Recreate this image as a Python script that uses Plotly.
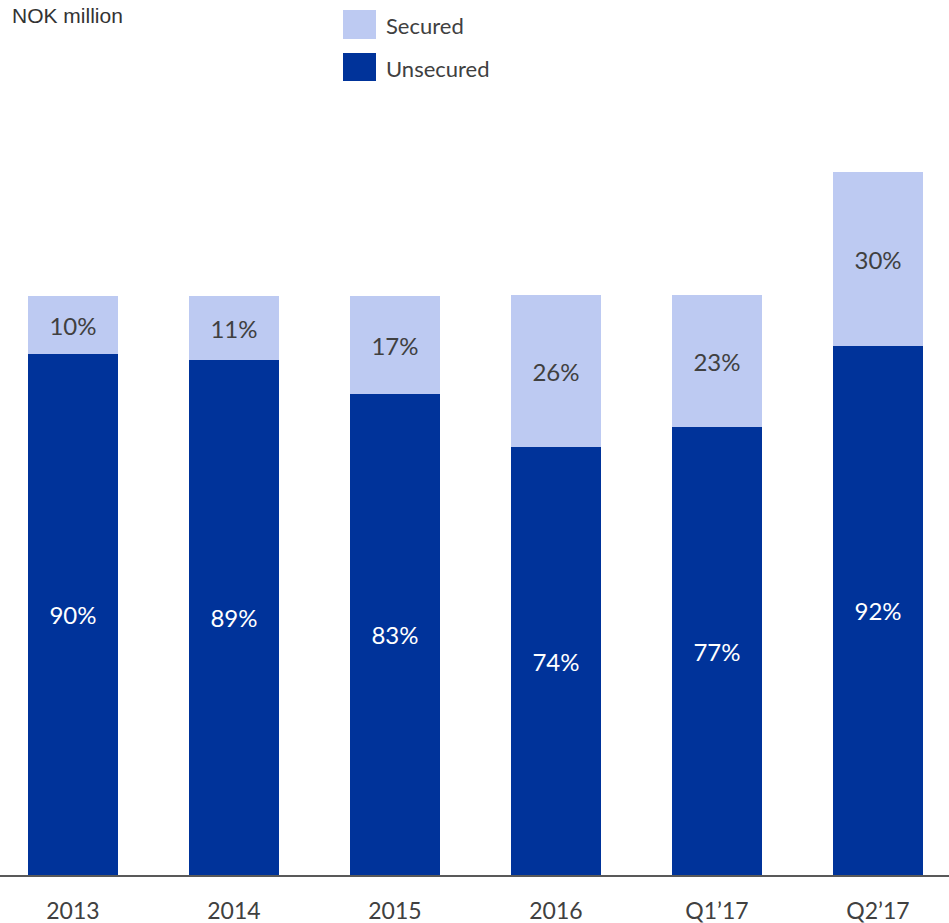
import plotly.graph_objects as go

# Loan book split by collateral type (NOK million)
categories = ["2013", "2014", "2015", "2016", "Q1\u201917", "Q2\u201917"]
unsecured = [521, 515, 481, 428, 448, 529]
secured = [58, 64, 98, 152, 132, 174]
unsecured_labels = ["90%", "89%", "83%", "74%", "77%", "92%"]
secured_labels = ["10%", "11%", "17%", "26%", "23%", "30%"]

COLOR_SECURED = "#BDCAF2"
COLOR_UNSECURED = "#00339A"
TEXT_DARK = "#404040"
FONT = "Lato"

W, H = 949, 923
M_TOP, M_BOTTOM = 100, 48
PLOT_H = H - M_TOP - M_BOTTOM

fig = go.Figure()
fig.add_trace(go.Bar(
    x=categories, y=unsecured, name="Unsecured",
    marker=dict(color=COLOR_UNSECURED, line=dict(width=0)),
    text=unsecured_labels, textposition="inside", insidetextanchor="middle",
    textangle=0, textfont=dict(family=FONT, size=24, color="white"),
    width=0.56, hoverinfo="x+y",
))
fig.add_trace(go.Bar(
    x=categories, y=secured, name="Secured",
    marker=dict(color=COLOR_SECURED, line=dict(width=0)),
    text=secured_labels, textposition="inside", insidetextanchor="middle",
    textangle=0, textfont=dict(family=FONT, size=24, color=TEXT_DARK),
    width=0.56, hoverinfo="x+y",
))


def py(pixel_y):
    """Convert a page pixel row to paper y."""
    return (H - M_BOTTOM - pixel_y) / PLOT_H


# Legend drawn as large swatches with labels
legend_items = [("Secured", COLOR_SECURED, 10, 39), ("Unsecured", COLOR_UNSECURED, 53, 81)]
shapes = []
annotations = []
for label, color, top, bottom in legend_items:
    shapes.append(dict(type="rect", xref="paper", yref="paper",
                       x0=343 / W, x1=376 / W, y0=py(bottom), y1=py(top),
                       fillcolor=color, line=dict(width=0)))
    annotations.append(dict(text=label, xref="paper", yref="paper",
                            x=384 / W, y=py((top + bottom) / 2 + 1),
                            xanchor="left", yanchor="middle", showarrow=False,
                            font=dict(family=FONT, size=22, color=TEXT_DARK)))

annotations.append(dict(text="NOK million", xref="paper", yref="paper",
                        x=10 / W, y=py(15), xanchor="left", yanchor="middle",
                        showarrow=False,
                        font=dict(family="Liberation Sans", size=21, color="#333333")))

fig.update_layout(
    width=W, height=H,
    barmode="stack",
    showlegend=False,
    plot_bgcolor="white", paper_bgcolor="white",
    margin=dict(l=0, r=0, t=M_TOP, b=M_BOTTOM),
    shapes=shapes, annotations=annotations,
    xaxis=dict(range=[-0.453, 5.441], showline=True, linecolor="#595959",
               linewidth=2, ticks="", showgrid=False, zeroline=False,
               tickfont=dict(family=FONT, size=23, color=TEXT_DARK),
               ticklabelstandoff=14),
    yaxis=dict(range=[0, PLOT_H], visible=False, showgrid=False, zeroline=False),
)

fig.write_html("out.html")
